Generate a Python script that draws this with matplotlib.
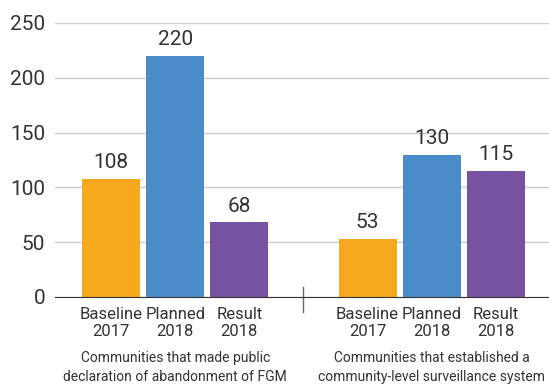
import matplotlib
matplotlib.use('Agg')
import matplotlib.pyplot as plt

plt.rcParams['font.family'] = ['Roboto', 'DejaVu Sans']

# data
groups = ['Communities that made public\ndeclaration of abandonment of FGM',
          'Communities that established a\ncommunity-level surveillance system']
series = ['Baseline\n2017', 'Planned\n2018', 'Result\n2018']
colors = ['#F6A81E', '#4A8BC9', '#7652A1']
values = [[108, 220, 68],
          [53, 130, 115]]
yticks = [0, 50, 100, 150, 200, 250]

fig = plt.figure(figsize=(5.49, 3.85), dpi=100)
ax = fig.add_axes([55/549, 1 - 297/385, 494/549, 274/385])

txt = '#333333'
for g, vals in enumerate(values):
    for i, v in enumerate(vals):
        x = g * 4 + i
        ax.bar(x, v, width=0.906, color=colors[i], zorder=3)
        ax.text(x, v + 6, str(v), ha='center', va='bottom', fontsize=15, color=txt)
        ax.text(x, -0.095, series[i], transform=ax.get_xaxis_transform(),
                ha='center', va='center', fontsize=12, color=txt, linespacing=1.2)
    ax.text(g * 4 + 1, -0.259, groups[g], transform=ax.get_xaxis_transform(),
            ha='center', va='center', fontsize=10, color=txt, linespacing=1.45)

# separator tick between groups
ax.plot([3, 3], [0.0365, -0.055], transform=ax.get_xaxis_transform(),
        color='#666666', lw=1, clip_on=False)

ax.set_xlim(-0.875, 6.83)
ax.set_ylim(0, 250)
ax.set_yticks(yticks)
ax.set_xticks([])
ax.tick_params(axis='y', length=0, pad=7, labelsize=15, labelcolor=txt)
ax.yaxis.grid(True, color='#cccccc', lw=1, zorder=0)
for s in ['top', 'right', 'left']:
    ax.spines[s].set_visible(False)
ax.spines['bottom'].set_color('#333333')
ax.spines['bottom'].set_zorder(4)

fig.savefig('out.png', dpi=100)
